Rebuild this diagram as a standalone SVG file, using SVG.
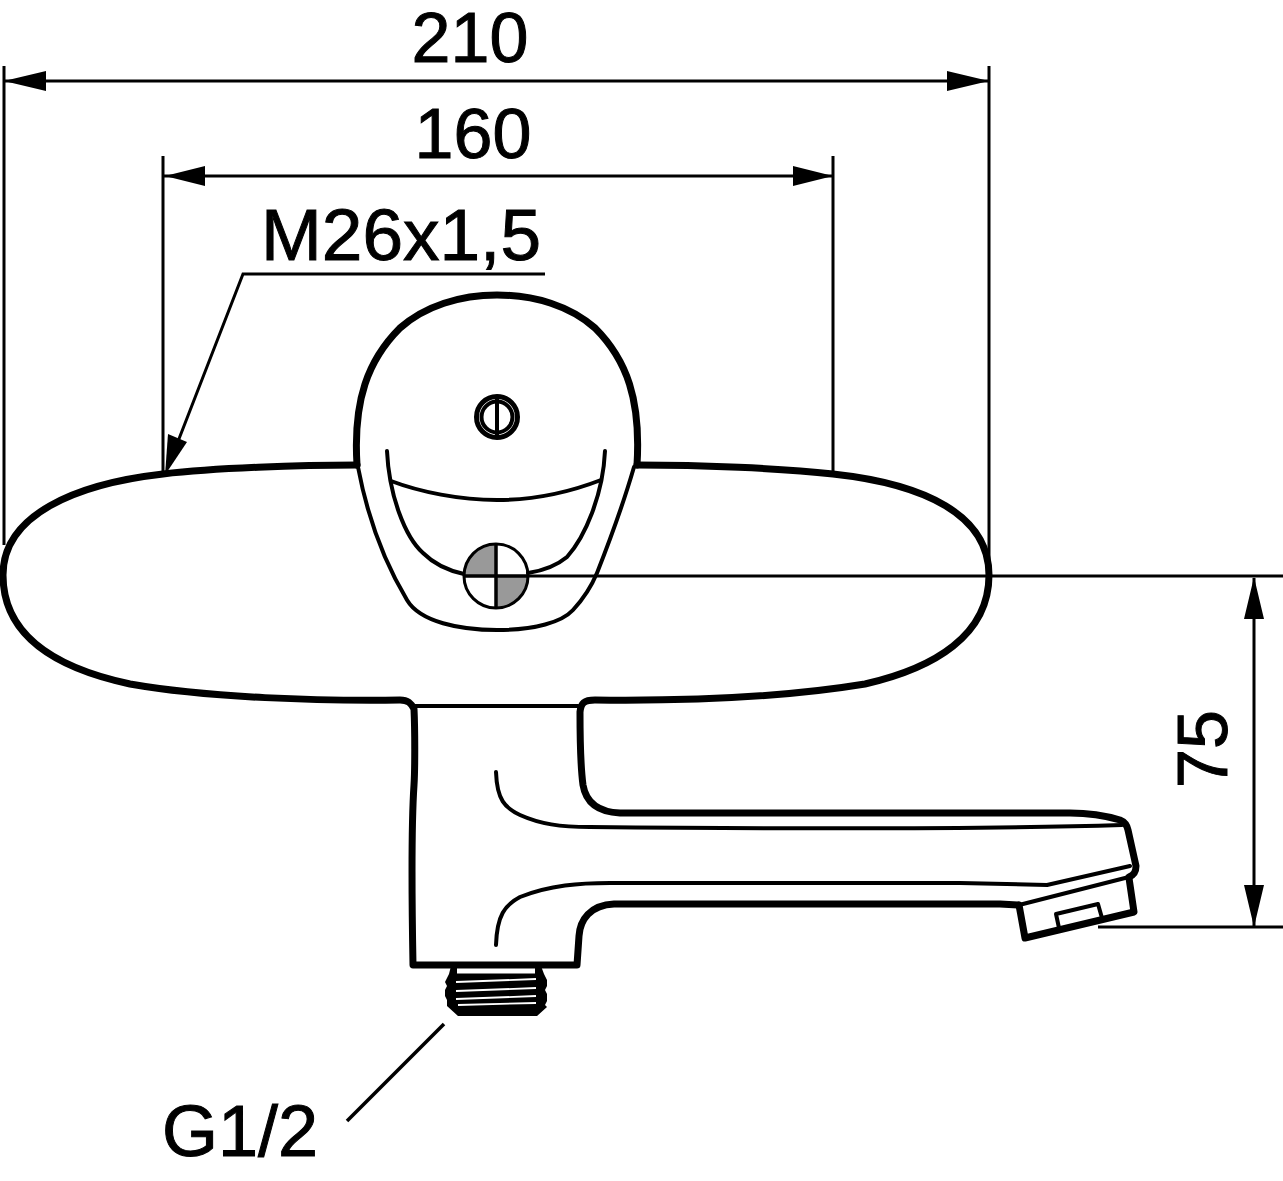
<svg xmlns="http://www.w3.org/2000/svg" width="1283" height="1181" viewBox="0 0 1283 1181">
<style>
.t{font-family:"Liberation Sans",Arial,sans-serif;font-size:70px;fill:#000;stroke:#000;stroke-width:1}
.h{fill:none;stroke:#000;stroke-width:7;stroke-linecap:round;stroke-linejoin:round}
.m{fill:none;stroke:#000;stroke-width:4;stroke-linecap:round;stroke-linejoin:round}
.d{fill:none;stroke:#000;stroke-width:3}
.a{fill:#000;stroke:none}
</style>
<rect width="1283" height="1181" fill="#fff"/>
<g id="connectors">
<path class="d" d="M4 66V545M989 66V560M163 156V472M833 156V472"/>
<path class="d" d="M4 81H989M163 176H833"/>
<path class="a" d="M4 81L46 71V91ZM989 81L947 71V91ZM165 176L205 166V186ZM833 176L793 166V186Z"/>
<path class="d" d="M545 274H243L170 462"/>
<path class="a" d="M165 475L168 434L187 442Z"/>
<path class="d" d="M528 576H1283M1098 927H1283M1254 578V926"/>
<path class="a" d="M1254 577L1244 619H1264ZM1254 927L1244 885H1264Z"/>
<path d="M444 1024L347 1121" fill="none" stroke="#000" stroke-width="3.5"/>
</g>
<g id="body">
<path class="h" d="M357 465C300 465 215 468 163 474C75 484 3 515 3 575C3 635 55 668 130 684C210 698 320 701 400 700C408 700 411 703 414 709C415 730 415 770 414 785C411 830 412 910 413 965H577L579 936C580 920 590 905 614 904H1000L1018 905"/>
<path class="h" d="M637 465C700 465 780 468 833 474C925 484 989 515 989 575C989 635 935 668 865 684C780 698 680 701 595 700C584 700 581 703 580 712C580 745 581 770 583 785C586 803 598 812 620 813H1070C1090 813 1110 817 1120 820C1125 822 1127 825 1128 830L1136 866C1136 872 1134 875 1129 877"/>
<path class="m" d="M415 706H578"/>
</g>
<g id="handle">
<path class="h" stroke-width="8" d="M357 465C353 400 368 360 400 328C425 306 460 295 497 295C535 295 570 306 595 328C627 360 641 400 637 465"/>
<path class="m" d="M358 467C368 520 386 565 407 600C420 622 460 630 497 630C535 630 562 622 573 610C585 597 592 585 597 573C610 540 623 505 634 467"/>
<path class="m" d="M387 451C389 495 405 537 423 553C435 565 450 571 464 574M605 451C603 495 585 537 567 557C555 567 541 571 528 573"/>
<path class="m" d="M391 481C420 492 460 500 497 500C535 500 570 492 601 480"/>
<circle cx="497" cy="417" r="20.5" fill="none" stroke="#000" stroke-width="5"/>
<circle cx="497" cy="417" r="15.5" fill="none" stroke="#000" stroke-width="4"/>
<path d="M497 398V436" fill="none" stroke="#000" stroke-width="4"/>
<path d="M496 576H464A32 32 0 0 1 496 544ZM496 576H528A32 32 0 0 1 496 608Z" fill="#999"/>
<circle cx="496" cy="576" r="32" fill="none" stroke="#000" stroke-width="3"/>
<path d="M496 544V608M464 576H528" fill="none" stroke="#000" stroke-width="3.5"/>
</g>
<g id="spout">
<path class="m" d="M496 772C497 800 505 808 520 815C540 824 560 827 590 827C800 829 1000 829 1122 825"/>
<path class="m" d="M496 945C497 915 505 905 520 897C550 885 580 883 610 883H960L1047 885L1130 866"/>
<path class="h" d="M1019 905L1025 938L1134 912L1129 878"/>
<path class="m" d="M1019 905L1129 877"/>
<path class="m" stroke-width="5" d="M1056 914L1098 904L1102 918M1056 914L1059 928"/>
</g>
<g id="thread">
<path class="a" d="M451 966H541L544 974L547 980V986L545 990L547 994V1001L545 1005L547 1007L537 1016H458L447 1006V1000L445 996V990L447 986L445 982L449 974Z"/>
<path d="M457 971H535" fill="none" stroke="#fff" stroke-width="5"/>
<path d="M456 982L536 979M456 991L536 988M456 999L536 996M458 1005L536 1003" fill="none" stroke="#fff" stroke-width="1.8"/>
</g>
<g id="labels">
<text class="t" x="470" y="62" text-anchor="middle">210</text>
<text class="t" x="473" y="158" text-anchor="middle">160</text>
<text class="t" style="font-size:73px" x="401" y="260" text-anchor="middle">M26x1,5</text>
<text class="t" style="font-size:72px" x="240" y="1156" text-anchor="middle">G1/2</text>
<text class="t" transform="translate(1227 749) rotate(-90)" text-anchor="middle">75</text>
</g>
</svg>
